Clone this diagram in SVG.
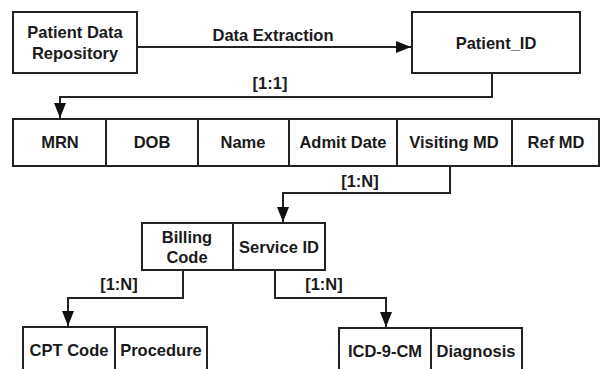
<svg xmlns="http://www.w3.org/2000/svg" width="602" height="369" viewBox="0 0 602 369">
<style>
.box{fill:#fff;stroke:#222;stroke-width:2}
.div{stroke:#222;stroke-width:2}
.t{font-family:"Liberation Sans",Arial,sans-serif;font-weight:bold;font-size:16.5px;fill:#1a1a1a;text-anchor:middle}
.c{fill:none;stroke:#222;stroke-width:2}
</style>
<defs>
<marker id="ah" markerUnits="userSpaceOnUse" markerWidth="15" markerHeight="13" refX="15" refY="6" orient="auto">
<path d="M0,0 L15,6 L0,12 z" fill="#111"/>
</marker>
</defs>
<g id="connectors">
<path class="c" d="M137,47 H411" marker-end="url(#ah)"/>
<path class="c" d="M492,73 V97 H60 V118" marker-end="url(#ah)"/>
<path class="c" d="M450,166 V193 H283 V222" marker-end="url(#ah)"/>
<path class="c" d="M183,270 V298 H68 V326" marker-end="url(#ah)"/>
<path class="c" d="M275,270 V298 H386 V327" marker-end="url(#ah)"/>
<text class="t" x="273" y="41">Data Extraction</text>
<text class="t" x="270" y="89">[1:1]</text>
<text class="t" x="360" y="187">[1:N]</text>
<text class="t" x="119" y="290">[1:N]</text>
<text class="t" x="324" y="290">[1:N]</text>
</g>
<g id="repo">
<rect class="box" x="13" y="12" width="124" height="61"/>
<text class="t" x="75" y="38">Patient Data</text>
<text class="t" x="75" y="59">Repository</text>
</g>
<g id="patient_id">
<rect class="box" x="412" y="12" width="168" height="61"/>
<text class="t" x="496" y="49">Patient_ID</text>
</g>
<g id="patient_row">
<rect class="box" x="13" y="119" width="586" height="47"/>
<line class="div" x1="106" y1="119" x2="106" y2="166"/>
<line class="div" x1="198" y1="119" x2="198" y2="166"/>
<line class="div" x1="289" y1="119" x2="289" y2="166"/>
<line class="div" x1="397" y1="119" x2="397" y2="166"/>
<line class="div" x1="512" y1="119" x2="512" y2="166"/>
<text class="t" x="60" y="148">MRN</text>
<text class="t" x="152" y="148">DOB</text>
<text class="t" x="243" y="148">Name</text>
<text class="t" x="343" y="148">Admit Date</text>
<text class="t" x="454" y="148">Visiting MD</text>
<text class="t" x="556" y="148">Ref MD</text>
</g>
<g id="service">
<rect class="box" x="142" y="223" width="183" height="47"/>
<line class="div" x1="233" y1="223" x2="233" y2="270"/>
<text class="t" x="187" y="243">Billing</text>
<text class="t" x="187" y="263">Code</text>
<text class="t" x="279" y="253">Service ID</text>
</g>
<g id="cpt">
<rect class="box" x="23" y="327" width="184" height="50"/>
<line class="div" x1="115" y1="327" x2="115" y2="377"/>
<text class="t" x="69" y="356">CPT Code</text>
<text class="t" x="161" y="356">Procedure</text>
</g>
<g id="icd">
<rect class="box" x="339" y="328" width="183" height="50"/>
<line class="div" x1="431" y1="328" x2="431" y2="378"/>
<text class="t" x="385" y="357">ICD-9-CM</text>
<text class="t" x="476" y="357">Diagnosis</text>
</g>
</svg>
